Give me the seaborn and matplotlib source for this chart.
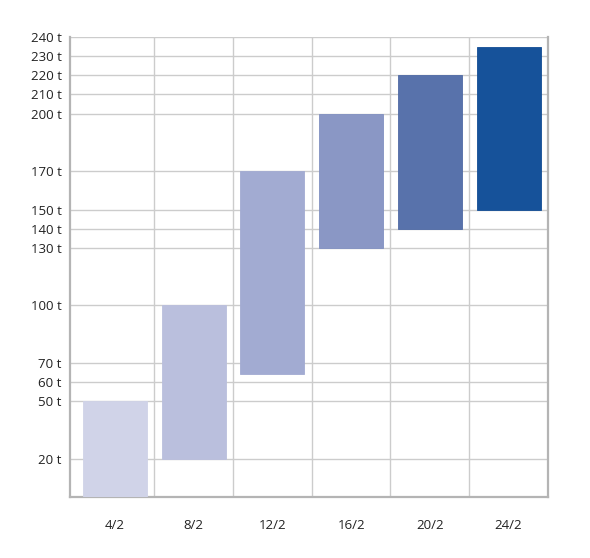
import matplotlib
matplotlib.use("Agg")
import matplotlib.pyplot as plt
import seaborn as sns
from matplotlib.ticker import FixedLocator

# data --------------------------------------------------------------------
dates = ['4/2', '8/2', '12/2', '16/2', '20/2', '24/2']
low = [0, 20, 64, 130, 140, 150]
high = [50, 100, 170, 200, 220, 235]
bar_colors = ['#d0d3e8', '#babfdd', '#a2abd2', '#8a97c5', '#5872ab', '#16529a']
edge_colors = ['#d0d3e8', '#babfdd', '#a2abd2', '#8190c1', '#4f6aa5', '#124d95']
y_ticks = [20, 50, 60, 70, 100, 130, 140, 150, 170, 200, 210, 220, 230, 240]
y_labels = [f"{v} t" for v in y_ticks]

sns.set_style("white")
plt.rcParams['font.family'] = ['Open Sans', 'DejaVu Sans']

fig = plt.figure(figsize=(5.9, 5.58), dpi=100)
ax = fig.add_axes([0.1186, 0.1093, 0.8102, 0.8244])

sns.barplot(x=dates, y=high, hue=dates, palette=bar_colors, legend=False,
            saturation=1, width=0.81, ax=ax, zorder=3, linewidth=0.6)
# turn the bars into floating ranges low..high
for patch, lo, hi, ec in zip(ax.patches, low, high, edge_colors):
    patch.set_y(lo)
    patch.set_height(hi - lo)
    patch.set_edgecolor(ec)

ax.set_ylim(0, 240)
ax.set_xlim(-0.57, 5.5)
ax.set_yticks(y_ticks)
ax.set_yticklabels(y_labels)
ax.xaxis.set_minor_locator(FixedLocator([0.5, 1.5, 2.5, 3.5, 4.5]))

ax.grid(axis='y', which='major', color='#cccccc', linewidth=1, zorder=0)
ax.grid(axis='x', which='minor', color='#cccccc', linewidth=1, zorder=0)
ax.grid(axis='x', which='major', visible=False)
ax.set_axisbelow(True)

ax.tick_params(axis='both', which='both', length=0, labelsize=9.5, labelcolor='#222222')
ax.tick_params(axis='x', pad=16)
ax.tick_params(axis='y', pad=6)

for side in ['left', 'bottom', 'right']:
    ax.spines[side].set_color('#b4b4b4')
    ax.spines[side].set_linewidth(1.6)
ax.spines['top'].set_visible(False)

ax.set_xlabel('')
ax.set_ylabel('')

fig.savefig('out.png', dpi=100)
